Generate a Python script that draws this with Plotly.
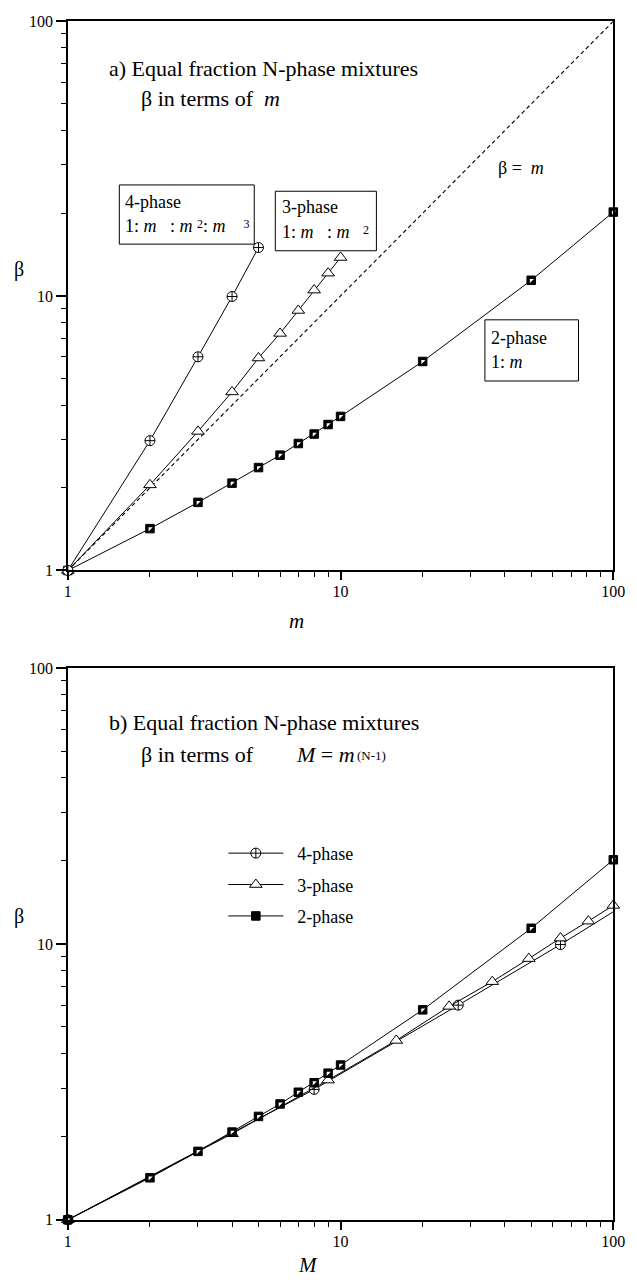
import plotly.graph_objects as go

W, H = 637, 1287

# ---- data -----------------------------------------------------------------
m_2ph = [1, 2, 3, 4, 5, 6, 7, 8, 9, 10, 20, 50, 100]
beta_2ph = [1, 1.42, 1.77, 2.08, 2.37, 2.63, 2.9, 3.14, 3.4, 3.64, 5.77, 11.4, 20.2]

m_3ph = [1, 2, 3, 4, 5, 6, 7, 8, 9, 10]
beta_3ph = [1, 2.05, 3.21, 4.47, 5.94, 7.3, 8.85, 10.5, 12.1, 13.8]

m_4ph = [1, 2, 3, 4, 5]
beta_4ph = [1, 2.97, 6.0, 9.95, 15.0]

# M = m^(N-1)
M_2ph = [1, 2, 3, 4, 5, 6, 7, 8, 9, 10, 20, 50, 100]
M_3ph = [1, 4, 9, 16, 25, 36, 49, 64, 81, 100]
M_4ph = [1, 8, 27, 64, 125]

diag = [1, 100]

tick_vals = [1, 10, 100]
tick_text = ["1", "10", "100"]

# ---- layout helpers (pixel -> paper) ---------------------------------------
def px(x):
    return x / W


def py(y):
    return 1 - y / H


SERIF = "Liberation Serif"
BLACK = "black"
NB = "\u00a0"

X0, X1 = 65.5, 625
A_TOP, A_BOT = 13.5, 570
B_TOP, B_BOT = 669, 1228


def line_trace(x, y, xa, ya, **kw):
    return go.Scatter(x=x, y=y, xaxis=xa, yaxis=ya, mode="lines+markers",
                      line=dict(color=BLACK, width=1), cliponaxis=False, **kw)


def sq_marker():
    return dict(symbol="square", size=8.5, color=BLACK, line=dict(color=BLACK, width=1))


def sq_overlay(x, y, xa, ya):
    # white upper-left corner of the half-filled squares
    return go.Scatter(x=x, y=y, xaxis=xa, yaxis=ya, mode="markers",
                      marker=dict(symbol="triangle-nw", size=4.6, color="white",
                                  line=dict(width=0)),
                      cliponaxis=False, showlegend=False, hoverinfo="skip")


tri_marker = dict(symbol="triangle-up", size=11, color="white",
                  line=dict(color=BLACK, width=1))
cx_marker = dict(symbol="circle-cross", size=10, color="white",
                 line=dict(color=BLACK, width=1))

fig = go.Figure()

# ---- panel a : beta vs m ----------------------------------------------------
fig.add_trace(go.Scatter(x=diag, y=diag, xaxis="x", yaxis="y", mode="lines",
                         line=dict(color=BLACK, width=1.1, dash="4px,3px"),
                         showlegend=False))
fig.add_trace(line_trace(m_2ph, beta_2ph, "x", "y", marker=sq_marker(), showlegend=False))
fig.add_trace(sq_overlay(m_2ph, beta_2ph, "x", "y"))
fig.add_trace(line_trace(m_3ph, beta_3ph, "x", "y", marker=tri_marker, showlegend=False))
fig.add_trace(line_trace(m_4ph, beta_4ph, "x", "y", marker=cx_marker, showlegend=False))

# ---- panel b : beta vs M ----------------------------------------------------
fig.add_trace(line_trace(M_4ph, beta_4ph, "x2", "y2", marker=cx_marker,
                         name=NB * 2 + "4-phase", legendgroup="g4"))
fig.add_trace(line_trace(M_3ph, beta_3ph, "x2", "y2", marker=tri_marker,
                         name=NB * 2 + "3-phase", legendgroup="g3"))
fig.add_trace(line_trace(M_2ph, beta_2ph, "x2", "y2", marker=sq_marker(),
                         name=NB * 2 + "2-phase", legendgroup="g2"))
fig.add_trace(sq_overlay(M_2ph, beta_2ph, "x2", "y2"))

# ---- axes -------------------------------------------------------------------
def log_axis(domain, anchor, is_x):
    return dict(type="log", range=[0, 2], domain=domain, anchor=anchor,
                showline=True, linecolor=BLACK, linewidth=1.5, mirror=True,
                ticks="outside", ticklen=8 if is_x else 10, tickwidth=1.5,
                tickcolor=BLACK, ticklabelstandoff=-2 if is_x else 0,
                tickmode="array", tickvals=tick_vals, ticktext=tick_text,
                showgrid=False, zeroline=False,
                tickfont=dict(family=SERIF, size=16, color=BLACK),
                minor=dict(ticks="outside", ticklen=5, tickwidth=1,
                           tickcolor=BLACK, dtick="D1", showgrid=False))


xdom = [px(X0), px(X1)]
fig.update_layout(
    xaxis=log_axis(xdom, "y", True),
    yaxis=log_axis([py(A_BOT), py(A_TOP)], "x", False),
    xaxis2=log_axis(xdom, "y2", True),
    yaxis2=log_axis([py(B_BOT), py(B_TOP)], "x2", False),
)


# ---- text -------------------------------------------------------------------
def note(x, y, text, size=18, xanchor="left"):
    return dict(x=px(x), y=py(y), xref="paper", yref="paper", text=text,
                showarrow=False, xanchor=xanchor, yanchor="middle",
                font=dict(family=SERIF, size=size, color=BLACK))


def up(t):
    return "<span style='font-size:12px;baseline-shift:4px'>%s</span>" % t


annotations = [
    note(106, 61.5, "a) Equal fraction N-phase mixtures", 22),
    note(138, 91.5, "β in terms of " + NB + "<i>m</i>", 22),
    note(122, 196.5, "4-phase"),
    note(122, 220.5, "1: <i>m</i>" + NB * 2 + " : <i>m</i> " + up("2") + ": <i>m</i>" + NB * 4 + up("3")),
    note(283, 202, "3-phase"),
    note(283, 227, "1: <i>m</i>" + NB * 2 + " : <i>m</i>" + NB * 2 + " " + up("2")),
    note(497, 334, "2-phase"),
    note(497, 359, "1: <i>m</i>"),
    note(505, 162, "β = " + NB + "<i>m</i>"),
    note(15, 265, "β", 20, "center"),
    note(300, 621, "<i>m</i>", 21, "center"),
    note(106, 724, "b) Equal fraction N-phase mixtures", 22),
    note(138, 756, "β in terms of", 22),
    note(297, 756, "<i>M</i> = <i>m</i>", 22),
    note(360, 758, "(N-1)", 13),
    note(15, 921, "β", 20, "center"),
    note(312, 1274, "<i>M</i>", 21, "center"),
]

box = dict(type="rect", xref="paper", yref="paper",
           line=dict(color=BLACK, width=1), fillcolor="white", layer="below")
shapes = [
    dict(box, x0=px(118.3), x1=px(256.7), y0=py(179.3), y1=py(239.3)),
    dict(box, x0=px(278.3), x1=px(382), y0=py(185.7), y1=py(246)),
    dict(box, x0=px(493.3), x1=px(589.3), y0=py(316), y1=py(378)),
]

fig.update_layout(
    width=W, height=H,
    margin=dict(l=0, r=0, t=0, b=0),
    paper_bgcolor="white", plot_bgcolor="white",
    annotations=annotations, shapes=shapes,
    showlegend=True,
    legend=dict(x=px(225), y=py(838), xanchor="left", yanchor="top",
                bgcolor="rgba(0,0,0,0)", tracegroupgap=5, itemwidth=55,
                font=dict(family=SERIF, size=18, color=BLACK)),
)

fig.write_html("out.html")
